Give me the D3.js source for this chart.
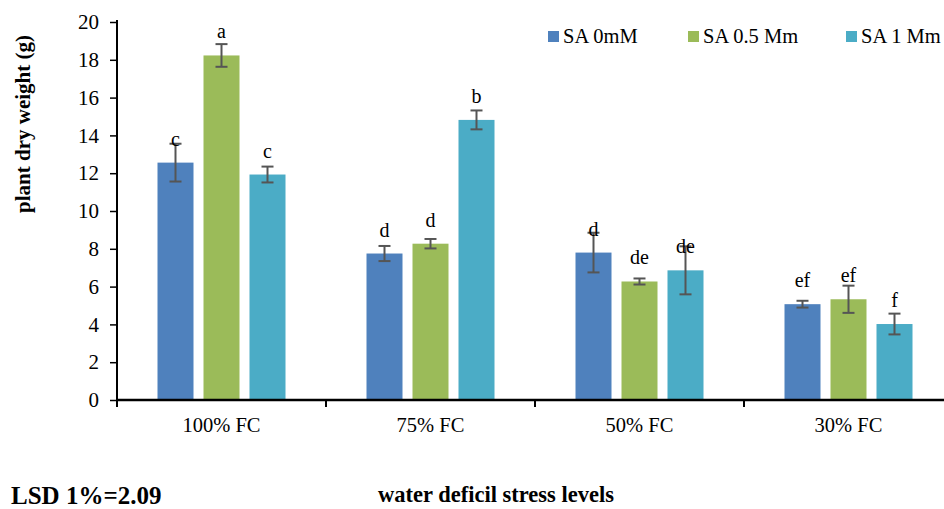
<!DOCTYPE html>
<html><head><meta charset="utf-8">
<script src="https://cdnjs.cloudflare.com/ajax/libs/d3/7.8.5/d3.min.js"></script>
<style>
html,body{margin:0;padding:0;background:#fff;}
text{font-family:'Liberation Serif','Times New Roman',serif !important;fill:#000;}
</style></head>
<body><svg id="c" width="944" height="509"></svg>
<script>
const categories = ["100% FC", "75% FC", "50% FC", "30% FC"];
const seriesNames = ["SA 0mM", "SA 0.5 Mm", "SA 1 Mm"];
const valuesSA0 = [12.56, 7.75, 7.80, 5.07];
const valuesSA05 = [18.23, 8.27, 6.27, 5.33];
const valuesSA1 = [11.93, 14.82, 6.86, 4.02];
const errSA0 = [1.00, 0.40, 1.05, 0.18];
const errSA05 = [0.60, 0.25, 0.16, 0.72];
const errSA1 = [0.42, 0.50, 1.27, 0.55];
const lettersSA0 = ["c", "d", "d", "ef"];
const lettersSA05 = ["a", "d", "de", "ef"];
const lettersSA1 = ["c", "b", "de", "f"];
const yTicks = [0, 2, 4, 6, 8, 10, 12, 14, 16, 18, 20];
const colors = ["#4F81BD", "#9BBB59", "#4BACC6"];

const vals = [valuesSA0, valuesSA05, valuesSA1];
const errs = [errSA0, errSA05, errSA1];
const lets = [lettersSA0, lettersSA05, lettersSA1];

const svg = d3.select("#c");
const x0 = d3.scaleBand().domain(categories).range([117, 953]).padding(0);
const y = d3.scaleLinear().domain([0, 20]).range([400, 22]);
const x1 = d3.scaleBand().domain(seriesNames).range([0, 138]).paddingInner(10/46).paddingOuter(5/46);
const groupOff = (x0.bandwidth() - 138) / 2;

const data = [];
categories.forEach((c, i) => seriesNames.forEach((s, j) => {
  data.push({cat: c, ser: s, j, v: vals[j][i], e: errs[j][i], l: lets[j][i]});
}));

const bx = d => x0(d.cat) + groupOff + x1(d.ser);
const cx = d => bx(d) + x1.bandwidth() / 2;

svg.append("g").selectAll("rect").data(data).join("rect")
  .attr("x", bx).attr("width", x1.bandwidth())
  .attr("y", d => y(d.v)).attr("height", d => y(0) - y(d.v))
  .attr("fill", d => colors[d.j]);

// error bars
const eg = svg.append("g").attr("stroke", "#555").attr("stroke-width", 2);
data.forEach(d => {
  const c = cx(d);
  eg.append("line").attr("x1", c).attr("x2", c).attr("y1", y(d.v + d.e)).attr("y2", y(d.v - d.e));
  eg.append("line").attr("x1", c - 6).attr("x2", c + 6).attr("y1", y(d.v + d.e)).attr("y2", y(d.v + d.e));
  eg.append("line").attr("x1", c - 6).attr("x2", c + 6).attr("y1", y(d.v - d.e)).attr("y2", y(d.v - d.e));
});

// letters
svg.append("g").selectAll("text").data(data).join("text")
  .attr("x", cx).attr("y", d => y(d.v) - 17)
  .attr("text-anchor", "middle").style("font-size", "20px").text(d => d.l);

// y axis
const yAxis = svg.append("g").attr("transform", "translate(117,0)")
  .call(d3.axisLeft(y).tickValues(yTicks).tickSize(7).tickPadding(11));
yAxis.attr("font-family", null).attr("font-size", null);
yAxis.select(".domain").attr("stroke", "#000").attr("stroke-width", 2).attr("d", "M0,20V401");
yAxis.selectAll(".tick line").attr("stroke", "#000").attr("stroke-width", 1.5);
yAxis.selectAll(".tick text").style("font-size", "21px").attr("fill", "#000");

// x axis
const xAxis = svg.append("g").attr("transform", "translate(0,400)")
  .call(d3.axisBottom(x0).tickSize(0).tickPadding(0));
xAxis.attr("font-family", null).attr("font-size", null);
xAxis.select(".domain").attr("stroke", "#000").attr("stroke-width", 2.5).attr("d", "M117,0H944");
xAxis.selectAll(".tick text").attr("y", 32).attr("dy", null)
  .style("font-size", "20.5px").attr("fill", "#000");
svg.append("g").selectAll("line").data(categories).join("line")
  .attr("x1", d => x0(d)).attr("x2", d => x0(d)).attr("y1", 400).attr("y2", 407)
  .attr("stroke", "#000").attr("stroke-width", 2);

// legend
const legX = [548, 688, 846];
const lg = svg.append("g");
seriesNames.forEach((s, j) => {
  lg.append("rect").attr("x", legX[j]).attr("y", 31).attr("width", 11).attr("height", 11).attr("fill", colors[j]);
  lg.append("text").attr("x", legX[j] + 15).attr("y", 43).style("font-size", "20.5px").text(s);
});

// axis titles
svg.append("text").attr("transform", "translate(30,124) rotate(-90)")
  .attr("text-anchor", "middle").style("font-size", "21px").style("font-weight", "bold")
  .text("plant dry weight (g)");
svg.append("text").attr("x", 11).attr("y", 504).style("font-size", "25px").style("font-weight", "bold").text("LSD 1%=2.09");
svg.append("text").attr("x", 378).attr("y", 502).style("font-size", "22.5px").style("font-weight", "bold").text("water deficil stress levels");
</script></body></html>
